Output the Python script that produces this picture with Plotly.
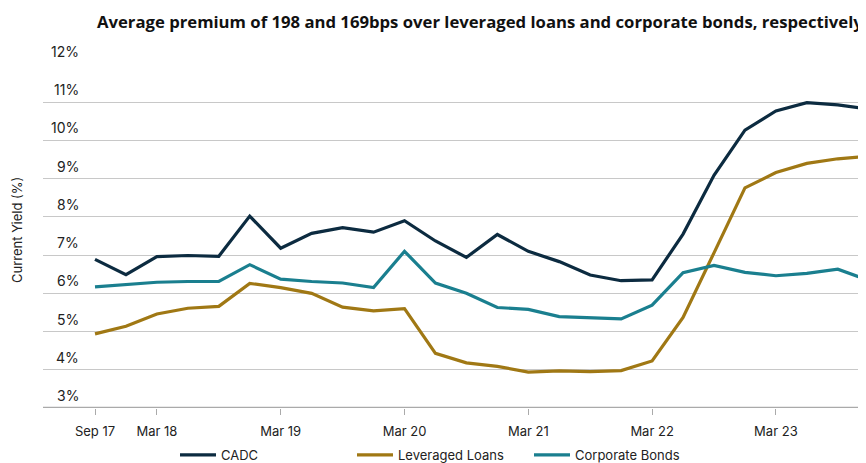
import plotly.graph_objects as go

quarters = ["Sep 17", "Dec 17", "Mar 18", "Jun 18", "Sep 18", "Dec 18", "Mar 19", "Jun 19",
            "Sep 19", "Dec 19", "Mar 20", "Jun 20", "Sep 20", "Dec 20", "Mar 21", "Jun 21",
            "Sep 21", "Dec 21", "Mar 22", "Jun 22", "Sep 22", "Dec 22", "Mar 23", "Jun 23",
            "Sep 23", "Dec 23"]
cadc = [6.89, 6.49, 6.96, 6.99, 6.97, 8.02, 7.18, 7.57, 7.72, 7.60, 7.90, 7.37, 6.94,
        7.54, 7.10, 6.83, 6.48, 6.33, 6.35, 7.55, 9.09, 10.27, 10.77, 10.99, 10.93, 10.82]
lev_loans = [4.94, 5.14, 5.46, 5.61, 5.66, 6.26, 6.15, 6.00, 5.64, 5.54, 5.60, 4.43, 4.18,
             4.09, 3.94, 3.97, 3.95, 3.98, 4.23, 5.37, 7.06, 8.76, 9.16, 9.40, 9.52, 9.59]
corp_bonds = [6.17, 6.22, 6.29, 6.31, 6.31, 6.75, 6.37, 6.31, 6.27, 6.15, 7.10, 6.27, 6.00,
              5.63, 5.58, 5.39, 5.35, 5.33, 5.69, 6.54, 6.73, 6.55, 6.46, 6.52, 6.63, 6.34]
tick_labels = ["Sep 17", "Mar 18", "Mar 19", "Mar 20", "Mar 21", "Mar 22", "Mar 23"]
y_ticks = [3, 4, 5, 6, 7, 8, 9, 10, 11, 12]

x_idx = list(range(len(quarters)))
tick_idx = [quarters.index(t) for t in tick_labels]

series = [("CADC", cadc, "#0c2b40"),
          ("Leveraged Loans", lev_loans, "#a07814"),
          ("Corporate Bonds", corp_bonds, "#1a7f8f")]

fig = go.Figure()
for name, vals, col in series:
    fig.add_trace(go.Scatter(x=x_idx, y=vals, mode="lines", name=name,
                             line=dict(color=col, width=3.2), hovertext=quarters))

OFF = 8  # page body offset
W, H = 866 - OFF, 463 - OFF
ml, mr, mt, mb = 43 - OFF, 0, 64 - OFF, H - (408 - OFF)
pw = W - ml - mr

fig.update_layout(
    width=W, height=H,
    margin=dict(l=ml, r=mr, t=mt, b=mb, autoexpand=False),
    plot_bgcolor="white", paper_bgcolor="white",
    font=dict(family="Inter, Roboto, sans-serif", color="#222222", size=13),
    title=dict(text="<b>Average premium of 198 and 169bps over leveraged loans and corporate bonds, respectively</b>",
               x=(97 - OFF) / W, xanchor="left", y=1 - (22 - OFF) / H, yanchor="middle",
               font=dict(family="Open Sans, sans-serif", size=16.7, color="#111111")),
    xaxis=dict(range=[(43 - 95) / 30.95, (866 - 95) / 30.95], automargin=False,
               tickmode="array", tickvals=tick_idx, ticktext=tick_labels,
               ticks="outside", ticklen=6, tickcolor="#aaaaaa", tickwidth=1,
               ticklabelstandoff=5,
               showgrid=False, zeroline=False, showline=False,
               tickfont=dict(size=13, color="#222222")),
    yaxis=dict(range=[3, 12], tickvals=y_ticks, showticklabels=False, automargin=False,
               showgrid=True, gridcolor="#c8c8c8", gridwidth=1, zeroline=False,
               showline=False),
    legend=dict(orientation="h", xref="container", yref="container",
                x=(175 - OFF) / W, xanchor="left",
                y=1 - (455 - OFF) / H, yanchor="middle",
                entrywidth=126, entrywidthmode="pixels",
                font=dict(size=13, color="#222222"), itemwidth=36),
    showlegend=True,
)

# axis baseline at 3%
fig.add_shape(type="line", xref="paper", yref="y", x0=0, x1=1, y0=3, y1=3,
              line=dict(color="#aaaaaa", width=2.5))

for v in y_ticks:
    fig.add_annotation(xref="paper", yref="y", x=(81 - 43) / pw, y=v, text=f"{v}%",
                       showarrow=False, xanchor="right", yanchor="bottom", yshift=2,
                       font=dict(size=14, color="#222222"))

fig.add_annotation(xref="paper", yref="paper", x=(17 - 43) / pw, y=(408 - 230) / 344,
                   text="Current Yield (%)", textangle=-90, showarrow=False,
                   xanchor="center", yanchor="middle", font=dict(size=13, color="#222222"))

fig.write_html("out.html")
